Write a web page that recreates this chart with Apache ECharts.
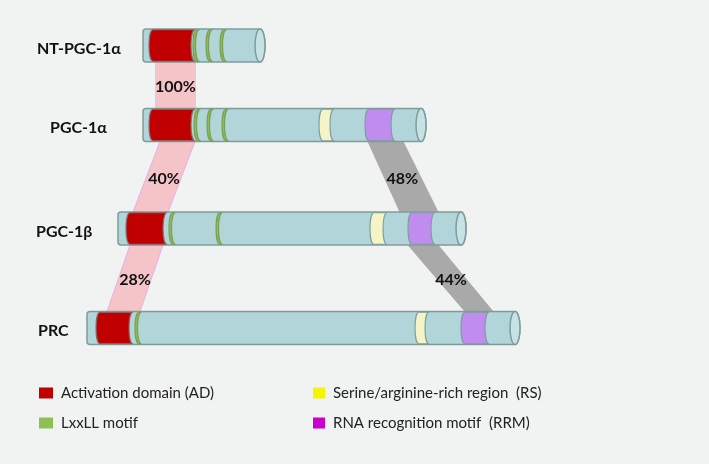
<!DOCTYPE html>
<html><head><meta charset="utf-8">
<script src="https://cdn.jsdelivr.net/npm/echarts@6/dist/echarts.min.js"></script>
<style>html,body{margin:0;padding:0;background:#f1f2f2}#c{width:709px;height:464px}</style>
</head><body><div id="c"></div>
<script>
// ---- data (sequence positions in diagram units) ----
const proteins = ['NT-PGC-1α', 'PGC-1α', 'PGC-1β', 'PRC'];
const proteinStart = [143, 143, 118, 87];
const proteinEnd = [265, 426, 466, 520];
const adDomains = [[0, 153, 195], [1, 153, 195], [2, 130, 167], [3, 100, 133]];
const lxxllMotifs = [[0, 197], [0, 210], [0, 224], [1, 198], [1, 211], [1, 226], [2, 173], [2, 220], [3, 139]];
const rsRegions = [[1, 323, 334], [2, 374, 387], [3, 419, 429]];
const rrmMotifs = [[1, 369, 395], [2, 412, 435], [3, 465, 489]];
const adLinks = [[0, 155, 196, 1, 155, 196], [1, 160, 195, 2, 133, 168], [2, 130, 163, 3, 107, 140]];
const adIdentity = ['100%', '40%', '28%'];
const rrmLinks = [[1, 368, 403, 2, 400, 438], [2, 408, 438, 3, 465, 493]];
const rrmIdentity = ['48%', '44%'];
const legendNames = ['Activation domain (AD)', 'LxxLL motif', 'Serine/arginine-rich region  (RS)', 'RNA recognition motif  (RRM)'];

// ---- layout ----
const rowY = [45.5, 125, 228.5, 328];
const nameLeft = [37, 50, 36, 38];
const BAR_H = 33;
const FONT = 'Lato, "Open Sans", sans-serif';
const STROKE = '#7f9c9d';

function halfH(api) { return api.size([0, BAR_H])[1] / 2; }

function domainPath(x0, x1, top, bottom) {
  const k = 5.3;
  return `M${x0},${top} C${x0 - k},${top} ${x0 - k},${bottom} ${x0},${bottom} L${x1},${bottom} C${x1 - k},${bottom} ${x1 - k},${top} ${x1},${top} Z`;
}

function bodyItem(params, api) {
  const row = api.value(0);
  const a = api.coord([api.value(1), rowY[row]]);
  const b = api.coord([api.value(2), rowY[row]]);
  const h = halfH(api);
  const top = a[1] - h, bottom = a[1] + h;
  const x0 = a[0], rx = 5, xe = b[0] - rx, r = 3;
  const body = `M${x0 + r},${top} L${xe},${top} A${rx},${h} 0 0 1 ${xe},${bottom} L${x0 + r},${bottom} Q${x0},${bottom} ${x0},${bottom - r} L${x0},${top + r} Q${x0},${top} ${x0 + r},${top} Z`;
  const cap = `M${xe},${top} A${rx},${h} 0 0 1 ${xe},${bottom} A${rx},${h} 0 0 1 ${xe},${top} Z`;
  return {
    type: 'group', children: [
      { type: 'path', shape: { pathData: body }, style: { fill: '#b1d5d8', stroke: STROKE, lineWidth: 1.5 } },
      { type: 'path', shape: { pathData: cap }, style: { fill: '#c6e2e4', stroke: STROKE, lineWidth: 1.5 } }
    ]
  };
}

function domainRenderer(fill, stroke, width) {
  return function (params, api) {
    const row = api.value(0);
    const s = api.value(1);
    const e = width ? s + width : api.value(2);
    const a = api.coord([s, rowY[row]]);
    const b = api.coord([e, rowY[row]]);
    const h = halfH(api);
    return {
      type: 'path', shape: { pathData: domainPath(a[0], b[0], a[1] - h + 0.8, a[1] + h - 0.8) },
      style: { fill: fill, stroke: stroke, lineWidth: 1.1 }
    };
  };
}

function linkRenderer(fill, stroke, labels) {
  return function (params, api) {
    const h = halfH(api);
    const fr = api.value(0), tr = api.value(3);
    const p1 = api.coord([api.value(1), rowY[fr]]);
    const p2 = api.coord([api.value(2), rowY[fr]]);
    const p3 = api.coord([api.value(5), rowY[tr]]);
    const p4 = api.coord([api.value(4), rowY[tr]]);
    const pts = [[p1[0], p1[1] + h], [p2[0], p2[1] + h], [p3[0], p3[1] - h], [p4[0], p4[1] - h]];
    const cx = (pts[0][0] + pts[1][0] + pts[2][0] + pts[3][0]) / 4;
    const cy = (pts[0][1] + pts[2][1]) / 2 + 2;
    const vertical = p1[0] === p4[0];
    return {
      type: 'group', children: [
        { type: 'polygon', shape: { points: pts }, style: { fill: fill, stroke: vertical ? null : stroke, lineWidth: 1 } },
        { type: 'text', x: cx, y: cy, style: { text: labels[params.dataIndex], fill: '#111', font: 'bold 16px ' + FONT, align: 'center', verticalAlign: 'middle' } }
      ]
    };
  };
}

function nameItem(params, api) {
  const i = api.value(0);
  const p = api.coord([nameLeft[i], rowY[i]]);
  return { type: 'text', x: p[0], y: p[1] + 3, style: { text: proteins[i], fill: '#111', font: 'bold 16px ' + FONT, align: 'left', verticalAlign: 'middle' } };
}

const chart = echarts.init(document.getElementById('c'), null, { renderer: 'canvas' });
chart.setOption({
  backgroundColor: '#f1f2f2',
  animation: false,
  grid: { left: 0, right: 0, top: 0, bottom: 0 },
  xAxis: { type: 'value', min: 0, max: 709, show: false },
  yAxis: { type: 'value', min: 0, max: 464, inverse: true, show: false },
  legend: [
    {
      left: 39, top: 384, orient: 'vertical', padding: 0, itemGap: 12, itemWidth: 14, itemHeight: 11, itemGap: 12,
      selectedMode: false, icon: 'rect',
      textStyle: { fontFamily: FONT, fontSize: 15, color: '#222', lineHeight: 18, padding: [0, 0, 0, 3] },
      data: [{ name: legendNames[0], itemStyle: { color: '#c00000' } }, { name: legendNames[1], itemStyle: { color: '#8dc153' } }]
    },
    {
      left: 313, top: 384, orient: 'vertical', padding: 0, itemGap: 12, itemWidth: 12, itemHeight: 11,
      selectedMode: false, icon: 'rect',
      textStyle: { fontFamily: FONT, fontSize: 15, color: '#222', lineHeight: 18, padding: [0, 0, 0, 3] },
      data: [{ name: legendNames[2], itemStyle: { color: '#f5f500' } }, { name: legendNames[3], itemStyle: { color: '#cc00cc' } }]
    }
  ],
  series: [
    { type: 'custom', name: 'ad-links', z: 1, renderItem: linkRenderer('#f5c4c8', '#e9aee6', adIdentity), data: adLinks },
    { type: 'custom', name: 'rrm-links', z: 1, renderItem: linkRenderer('#a9a9a9', '#a9a9a9', rrmIdentity), data: rrmLinks },
    { type: 'custom', name: 'body', z: 2, renderItem: bodyItem, data: proteins.map((p, i) => [i, proteinStart[i], proteinEnd[i]]) },
    { type: 'custom', name: legendNames[0], z: 3, itemStyle: { color: '#c00000' }, renderItem: domainRenderer('#c00000', '#8a6a6a'), data: adDomains },
    { type: 'custom', name: legendNames[1], z: 3, itemStyle: { color: '#8dc153' }, renderItem: domainRenderer('#8bbb5a', '#78a04e', 2.5), data: lxxllMotifs },
    { type: 'custom', name: legendNames[2], z: 3, itemStyle: { color: '#f5f500' }, renderItem: domainRenderer('#f4f4c6', STROKE), data: rsRegions },
    { type: 'custom', name: legendNames[3], z: 3, itemStyle: { color: '#cc00cc' }, renderItem: domainRenderer('#c18cf0', STROKE), data: rrmMotifs },
    { type: 'custom', name: 'names', z: 4, renderItem: nameItem, data: proteins.map((p, i) => [i]) }
  ]
});
</script></body></html>
